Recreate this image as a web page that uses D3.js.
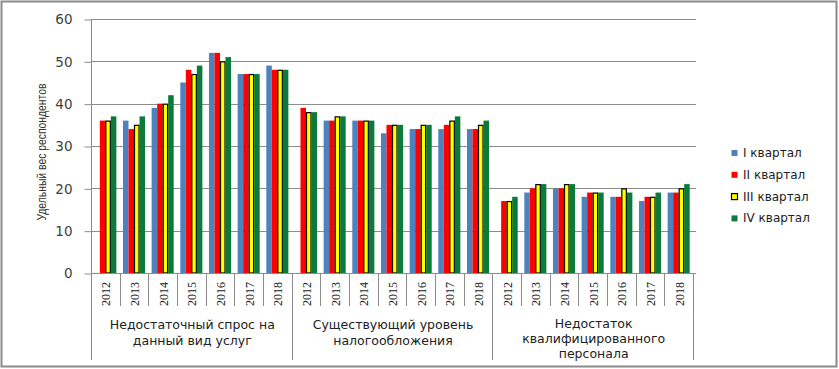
<!DOCTYPE html>
<html>
<head>
<meta charset="utf-8">
<script src="https://cdn.jsdelivr.net/npm/d3@7"></script>
<style>
html,body{margin:0;padding:0;background:#fff;}
svg{display:block;}
</style>
</head>
<body>
<svg id="chart" width="839" height="369"></svg>
<script>
// ---- data ----
const groups = [
  ["Недостаточный спрос на", "данный вид услуг"],
  ["Существующий уровень", "налогообложения"],
  ["Недостаток", "квалифицированного", "персонала"]
];
const years = ["2012", "2013", "2014", "2015", "2016", "2017", "2018"];
const seriesNames = ["I  квартал", "II квартал", "III квартал", "IV квартал"];
const q1 = [null, 36, 39, 45, 52, 47, 49,  null, 36, 36, 33, 34, 34, 34,  null, 19, 20, 18, 18, 17, 19];
const q2 = [36, 34, 40, 48, 52, 47, 48,  39, 36, 36, 35, 34, 35, 34,  17, 20, 20, 19, 18, 18, 19];
const q3 = [36, 35, 40, 47, 50, 47, 48,  38, 37, 36, 35, 35, 36, 35,  17, 21, 21, 19, 20, 18, 20];
const q4 = [37, 37, 42, 49, 51, 47, 48,  38, 37, 36, 35, 35, 37, 36,  18, 21, 21, 19, 19, 19, 21];
const yTicks = [0, 10, 20, 30, 40, 50, 60];
const yTitle = "Удельный вес респондентов";

// ---- styles ----
const colors = ["#4F81BD", "#FF0000", "#FFFF00", "#0B7A3B"];
const strokes = [null, null, "#000", null];

const svg = d3.select("#chart");
const pL = 91, pR = 693, pT = 19, pB = 273;

function fitSize(sel, base, target) {
  const len = sel.node().getComputedTextLength();
  return base * target / len;
}

const slots = [];
groups.forEach((g, gi) => years.forEach((yr, yi) => slots.push(gi + "-" + yi)));
const allSeries = [q1, q2, q3, q4];

const x = d3.scaleBand().domain(slots).range([pL, pR]).padding(0);
const xs = d3.scaleBand().domain(d3.range(4)).range([0, x.bandwidth()]).paddingInner(0).paddingOuter(0.6);
const y = d3.scaleLinear().domain([0, 60]).range([pB, pT]);

// outer border
svg.append("rect").attr("x", 1.5).attr("y", 1.5).attr("width", 835).attr("height", 365)
  .attr("fill", "none").attr("stroke", "#8a8a8a").attr("stroke-width", 2);

// gridlines
svg.append("g").selectAll("line").data(yTicks.filter(t => t > 0)).join("line")
  .attr("x1", pL).attr("x2", pR + 3)
  .attr("y1", d => Math.round(y(d)) + 0.5).attr("y2", d => Math.round(y(d)) + 0.5)
  .attr("stroke", "#8c8c8c").attr("stroke-width", 1);

// y axis
const yAxis = d3.axisLeft(y).tickValues(yTicks).tickSize(7).tickPadding(12);
const ya = svg.append("g").attr("transform", `translate(${pL + 0.5},0.5)`).call(yAxis);
ya.select(".domain").attr("stroke", "#8c8c8c").attr("d", `M0,${pT}V${pB}`);
ya.selectAll(".tick line").attr("stroke", "#8c8c8c");
ya.selectAll(".tick text").attr("font-family", "DejaVu Sans").attr("font-size", 13.5).attr("fill", "#404040");

// y title
svg.append("text").attr("transform", `translate(42,152) rotate(-90)`)
  .attr("text-anchor", "middle").attr("dominant-baseline", "central")
  .attr("font-family", "Liberation Sans").attr("font-size", 12.5).attr("fill", "#333")
  .attr("textLength", 137).attr("lengthAdjust", "spacingAndGlyphs")
  .text(yTitle);

// bars
const barData = [];
slots.forEach((s, i) => allSeries.forEach((ser, si) => {
  if (ser[i] != null) barData.push({ slot: s, si, v: ser[i] });
}));
svg.append("g").selectAll("rect").data(barData).join("rect")
  .attr("x", d => x(d.slot) + xs(d.si) + (strokes[d.si] ? 0.5 : 0))
  .attr("y", d => y(d.v) + (strokes[d.si] ? 0.5 : 0))
  .attr("width", d => xs.bandwidth() - (strokes[d.si] ? 1 : 0))
  .attr("height", d => pB - y(d.v) - (strokes[d.si] ? 0.5 : 0))
  .attr("fill", d => colors[d.si])
  .attr("stroke", d => strokes[d.si] || "none")
  .attr("stroke-width", 1.2);

// x axis baseline
svg.append("line").attr("x1", pL).attr("x2", pR + 3).attr("y1", pB + 0.5).attr("y2", pB + 0.5)
  .attr("stroke", "#8c8c8c");

// year separators
const bounds = slots.map(s => x(s)).concat([pR]);
svg.append("g").selectAll("line").data(bounds).join("line")
  .attr("x1", d => Math.round(d) + 0.5).attr("x2", d => Math.round(d) + 0.5)
  .attr("y1", pB)
  .attr("y2", (d, i) => (i % 7 === 0) ? 360 : 306)
  .attr("stroke", "#8c8c8c");

// year labels
svg.append("g").selectAll("text").data(slots).join("text")
  .attr("transform", s => `translate(${x(s) + x.bandwidth() / 2 + 1},294) rotate(-90)`)
  .attr("text-anchor", "middle").attr("dominant-baseline", "central")
  .attr("font-family", "Liberation Serif").attr("font-size", 12).attr("fill", "#222")
  .text(s => years[+s.split("-")[1]]);

// group labels
const probe = svg.append("text").attr("font-family", "DejaVu Sans").attr("font-size", 12).text(groups[0][0]);
const gSize = Math.min(12.5, fitSize(probe, 12, 180));
probe.remove();
const gLines = [[324, 340], [324, 340], [323, 338, 353]];
groups.forEach((g, gi) => {
  const cx = (x(gi + "-0") + x(gi + "-6") + x.bandwidth()) / 2;
  svg.append("g").selectAll("text").data(g).join("text")
    .attr("x", cx + 1).attr("y", (d, i) => gLines[gi][i])
    .attr("text-anchor", "middle").attr("dominant-baseline", "central")
    .attr("font-family", "DejaVu Sans").attr("font-size", gSize).attr("fill", "#222")
    .text(d => d);
});

// legend
const lg = svg.append("g").selectAll("g").data(seriesNames).join("g")
  .attr("transform", (d, i) => `translate(731,${153 + i * 21.8})`);
lg.append("rect").attr("x", 0.5).attr("y", -3).attr("width", 6).attr("height", 6)
  .attr("fill", (d, i) => colors[i]).attr("stroke", (d, i) => strokes[i] || "none").attr("stroke-width", 1.2);
const lt = lg.append("text").attr("x", 12).attr("y", 0).attr("dominant-baseline", "central")
  .attr("font-family", "DejaVu Sans").attr("font-size", 12).attr("fill", "#222")
  .text(d => d);
const lSize = Math.min(12, fitSize(lt.filter((d, i) => i === 3), 12, 75));
lt.attr("font-size", lSize);
</script>
</body>
</html>
